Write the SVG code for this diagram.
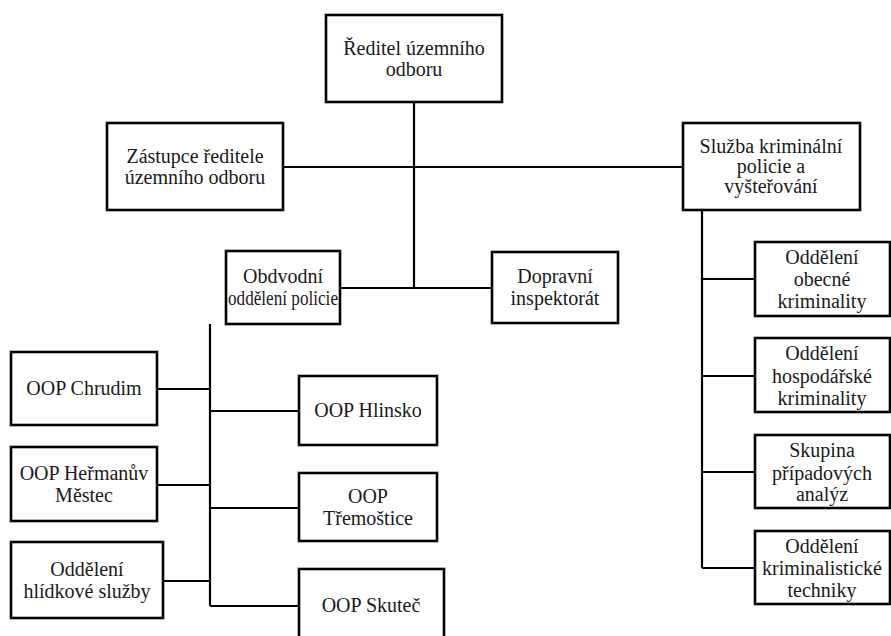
<svg xmlns="http://www.w3.org/2000/svg" width="891" height="636" viewBox="0 0 891 636">
<style>
.box{fill:#fff;stroke:#000;stroke-width:2.6}
.ln{fill:none;stroke:#000;stroke-width:2.2}
.t{font-family:'Liberation Serif','Times New Roman',serif;font-size:20px;fill:#1a1a1a;text-anchor:middle}
</style>
<rect width="891" height="636" fill="#fff"/>
<g id="connectors">
<path class="ln" d="M414 102V288M283 167H683M340 288H492"/>
<path class="ln" d="M702 210V568M702 279H755M702 376H755M702 472H755M702 568H755"/>
<path class="ln" d="M210 324V606M157 389H210M157 485H210M163 581H210M210 411H299M210 508H299M210 606H299"/>
</g>
<g id="nodes" class="t">
<g id="n-reditel"><rect class="box" x="326" y="15" width="176" height="87"/><text x="414" y="55">Ředitel územního</text><text x="414" y="76">odboru</text></g>
<g id="n-zastupce"><rect class="box" x="107" y="123" width="176" height="87"/><text x="195" y="163">Zástupce ředitele</text><text x="195" y="184">územního odboru</text></g>
<g id="n-sluzba"><rect class="box" x="683" y="123" width="177" height="87"/><text x="771" y="153">Služba kriminální</text><text x="771" y="173">policie a</text><text x="771" y="193">vyšteřování</text></g>
<g id="n-obvodni"><rect class="box" x="226" y="251" width="114" height="73"/><text x="283" y="283">Obdvodní</text><text x="283" y="305" textLength="110" lengthAdjust="spacingAndGlyphs">oddělení policie</text></g>
<g id="n-dopravni"><rect class="box" x="492" y="252" width="126" height="71"/><text x="555" y="283">Dopravní</text><text x="555" y="305">inspektorát</text></g>
<g id="n-chrudim"><rect class="box" x="11" y="352" width="146" height="73"/><text x="84" y="395">OOP Chrudim</text></g>
<g id="n-hermanuv"><rect class="box" x="11" y="447" width="146" height="74"/><text x="84" y="480">OOP Heřmanův</text><text x="84" y="502">Městec</text></g>
<g id="n-hlidkove"><rect class="box" x="11" y="542" width="152" height="76"/><text x="87" y="576">Oddělení</text><text x="87" y="598">hlídkové služby</text></g>
<g id="n-hlinsko"><rect class="box" x="299" y="376" width="138" height="69"/><text x="368" y="417">OOP Hlinsko</text></g>
<g id="n-tremostice"><rect class="box" x="299" y="473" width="138" height="68"/><text x="368" y="503">OOP</text><text x="368" y="525">Třemoštice</text></g>
<g id="n-skutec"><rect class="box" x="299" y="569" width="145" height="80"/><text x="371" y="612">OOP Skuteč</text></g>
<g id="n-obecne"><rect class="box" x="755" y="242" width="135" height="74"/><text x="822" y="264">Oddělení</text><text x="822" y="286">obecné</text><text x="822" y="308">kriminality</text></g>
<g id="n-hospodarske"><rect class="box" x="755" y="338" width="135" height="74"/><text x="822" y="360">Oddělení</text><text x="822" y="383">hospodářské</text><text x="822" y="405">kriminality</text></g>
<g id="n-skupina"><rect class="box" x="755" y="435" width="135" height="73"/><text x="822" y="457">Skupina</text><text x="822" y="480">případových</text><text x="822" y="501">analýz</text></g>
<g id="n-technika"><rect class="box" x="755" y="531" width="135" height="73"/><text x="822" y="553">Oddělení</text><text x="822" y="575">kriminalistické</text><text x="822" y="597">techniky</text></g>
</g>
</svg>
